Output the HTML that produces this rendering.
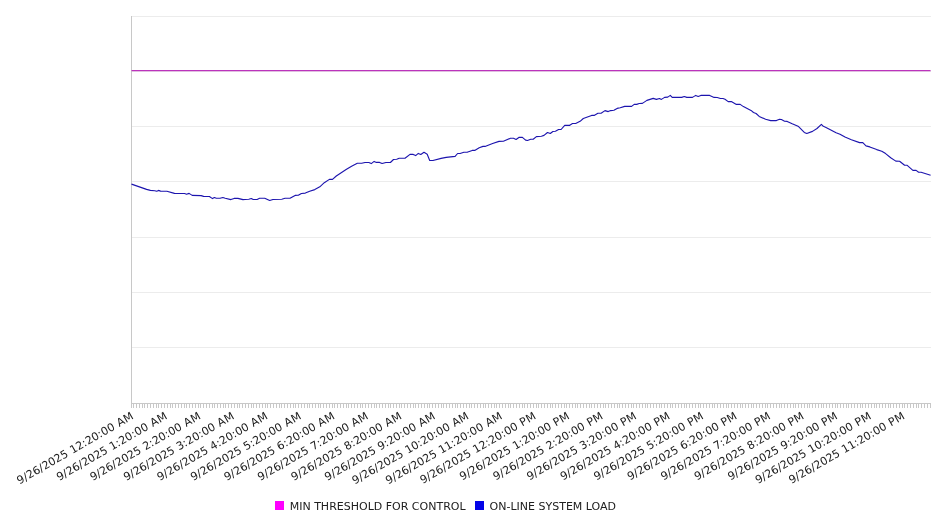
<!DOCTYPE html>
<html><head><meta charset="utf-8"><title>System Load</title>
<style>
html,body{margin:0;padding:0;background:#fff;}
body{width:946px;height:526px;overflow:hidden;}
svg{display:block}
text{font-family:"DejaVu Sans","Liberation Sans",sans-serif;font-size:11px;fill:#202020}
</style></head><body>
<svg width="946" height="526" viewBox="0 0 946 526">
<rect width="946" height="526" fill="#fff"/>

<g stroke="#ececec" stroke-width="1" shape-rendering="crispEdges">
<line x1="131" x2="931" y1="16.5" y2="16.5"/>
<line x1="131" x2="931" y1="71.5" y2="71.5"/>
<line x1="131" x2="931" y1="126.5" y2="126.5"/>
<line x1="131" x2="931" y1="181.5" y2="181.5"/>
<line x1="131" x2="931" y1="237.5" y2="237.5"/>
<line x1="131" x2="931" y1="292.5" y2="292.5"/>
<line x1="131" x2="931" y1="347.5" y2="347.5"/>
</g>
<g stroke="#c8c8c8" stroke-width="1" shape-rendering="crispEdges">
<line x1="131.5" x2="131.5" y1="16" y2="404"/>
<line x1="131" x2="931" y1="403.5" y2="403.5"/>
<path d="M131.5,404V408M133.5,404V408M136.5,404V408M139.5,404V408M142.5,404V408M144.5,404V408M147.5,404V408M150.5,404V408M153.5,404V408M156.5,404V408M158.5,404V408M161.5,404V408M164.5,404V408M167.5,404V408M170.5,404V408M172.5,404V408M175.5,404V408M178.5,404V408M181.5,404V408M184.5,404V408M186.5,404V408M189.5,404V408M192.5,404V408M195.5,404V408M198.5,404V408M200.5,404V408M203.5,404V408M206.5,404V408M209.5,404V408M212.5,404V408M214.5,404V408M217.5,404V408M220.5,404V408M223.5,404V408M225.5,404V408M228.5,404V408M231.5,404V408M234.5,404V408M237.5,404V408M239.5,404V408M242.5,404V408M245.5,404V408M248.5,404V408M251.5,404V408M253.5,404V408M256.5,404V408M259.5,404V408M262.5,404V408M265.5,404V408M267.5,404V408M270.5,404V408M273.5,404V408M276.5,404V408M279.5,404V408M281.5,404V408M284.5,404V408M287.5,404V408M290.5,404V408M293.5,404V408M295.5,404V408M298.5,404V408M301.5,404V408M304.5,404V408M307.5,404V408M309.5,404V408M312.5,404V408M315.5,404V408M318.5,404V408M320.5,404V408M323.5,404V408M326.5,404V408M329.5,404V408M332.5,404V408M334.5,404V408M337.5,404V408M340.5,404V408M343.5,404V408M346.5,404V408M348.5,404V408M351.5,404V408M354.5,404V408M357.5,404V408M360.5,404V408M362.5,404V408M365.5,404V408M368.5,404V408M371.5,404V408M374.5,404V408M376.5,404V408M379.5,404V408M382.5,404V408M385.5,404V408M388.5,404V408M390.5,404V408M393.5,404V408M396.5,404V408M399.5,404V408M401.5,404V408M404.5,404V408M407.5,404V408M410.5,404V408M413.5,404V408M415.5,404V408M418.5,404V408M421.5,404V408M424.5,404V408M427.5,404V408M429.5,404V408M432.5,404V408M435.5,404V408M438.5,404V408M441.5,404V408M443.5,404V408M446.5,404V408M449.5,404V408M452.5,404V408M455.5,404V408M457.5,404V408M460.5,404V408M463.5,404V408M466.5,404V408M469.5,404V408M471.5,404V408M474.5,404V408M477.5,404V408M480.5,404V408M483.5,404V408M485.5,404V408M488.5,404V408M491.5,404V408M494.5,404V408M496.5,404V408M499.5,404V408M502.5,404V408M505.5,404V408M508.5,404V408M510.5,404V408M513.5,404V408M516.5,404V408M519.5,404V408M522.5,404V408M524.5,404V408M527.5,404V408M530.5,404V408M533.5,404V408M536.5,404V408M538.5,404V408M541.5,404V408M544.5,404V408M547.5,404V408M550.5,404V408M552.5,404V408M555.5,404V408M558.5,404V408M561.5,404V408M564.5,404V408M566.5,404V408M569.5,404V408M572.5,404V408M575.5,404V408M577.5,404V408M580.5,404V408M583.5,404V408M586.5,404V408M589.5,404V408M591.5,404V408M594.5,404V408M597.5,404V408M600.5,404V408M603.5,404V408M605.5,404V408M608.5,404V408M611.5,404V408M614.5,404V408M617.5,404V408M619.5,404V408M622.5,404V408M625.5,404V408M628.5,404V408M631.5,404V408M633.5,404V408M636.5,404V408M639.5,404V408M642.5,404V408M645.5,404V408M647.5,404V408M650.5,404V408M653.5,404V408M656.5,404V408M659.5,404V408M661.5,404V408M664.5,404V408M667.5,404V408M670.5,404V408M672.5,404V408M675.5,404V408M678.5,404V408M681.5,404V408M684.5,404V408M686.5,404V408M689.5,404V408M692.5,404V408M695.5,404V408M698.5,404V408M700.5,404V408M703.5,404V408M706.5,404V408M709.5,404V408M712.5,404V408M714.5,404V408M717.5,404V408M720.5,404V408M723.5,404V408M726.5,404V408M728.5,404V408M731.5,404V408M734.5,404V408M737.5,404V408M740.5,404V408M742.5,404V408M745.5,404V408M748.5,404V408M751.5,404V408M753.5,404V408M756.5,404V408M759.5,404V408M762.5,404V408M765.5,404V408M767.5,404V408M770.5,404V408M773.5,404V408M776.5,404V408M779.5,404V408M781.5,404V408M784.5,404V408M787.5,404V408M790.5,404V408M793.5,404V408M795.5,404V408M798.5,404V408M801.5,404V408M804.5,404V408M807.5,404V408M809.5,404V408M812.5,404V408M815.5,404V408M818.5,404V408M821.5,404V408M823.5,404V408M826.5,404V408M829.5,404V408M832.5,404V408M835.5,404V408M837.5,404V408M840.5,404V408M843.5,404V408M846.5,404V408M848.5,404V408M851.5,404V408M854.5,404V408M857.5,404V408M860.5,404V408M862.5,404V408M865.5,404V408M868.5,404V408M871.5,404V408M874.5,404V408M876.5,404V408M879.5,404V408M882.5,404V408M885.5,404V408M888.5,404V408M890.5,404V408M893.5,404V408M896.5,404V408M899.5,404V408M902.5,404V408M904.5,404V408M907.5,404V408M910.5,404V408M913.5,404V408M916.5,404V408M918.5,404V408M921.5,404V408M924.5,404V408M927.5,404V408M930.5,404V408" fill="none"/>
</g>
<line x1="131.5" x2="930.6" y1="70.62" y2="70.62" stroke="#bc34bc" stroke-width="1.1"/>
<path d="M131.5,184.1 L146.6,189.4 L150.4,190.4 L154.8,190.7 L156.7,191.3 L158.6,190.4 L160.5,191.1 L166.9,191.3 L174.5,193.4 L184.6,193.5 L186.5,194.2 L189.1,193.4 L192.2,195.4 L201.1,195.6 L203.6,196.4 L209.4,196.5 L212.5,198.6 L214.4,197.5 L216.3,198.3 L220.1,198.3 L222.9,197.5 L225.2,198.3 L230.9,199.6 L234.1,198.4 L237.9,198.4 L243.0,199.6 L245.0,199.5 L248.8,199.2 L251.3,198.5 L253.2,199.5 L257.1,199.5 L259.6,198.3 L264.7,198.3 L269.7,200.5 L272.9,199.5 L281.8,199.2 L285.0,198.3 L290.0,198.3 L295.1,195.4 L298.3,195.3 L301.4,193.5 L305.3,193.1 L309.7,191.2 L314.8,189.6 L319.8,186.8 L324.3,182.7 L329.4,179.4 L332.5,179.4 L336.3,176.0 L346.5,169.3 L351.6,166.2 L357.3,163.2 L361.7,163.2 L365.0,162.5 L368.8,162.5 L371.3,163.6 L374.1,161.4 L376.4,162.4 L379.6,162.4 L382.1,163.5 L385.9,162.5 L390.4,162.5 L393.5,159.5 L396.7,159.3 L399.2,158.3 L405.0,158.3 L410.0,154.4 L413.2,154.4 L415.7,155.6 L418.3,153.4 L420.8,154.5 L424.0,152.3 L427.2,154.2 L429.7,160.5 L432.9,160.5 L441.1,158.4 L446.2,157.4 L455.1,156.4 L457.6,153.5 L460.1,153.5 L463.9,152.3 L467.1,152.3 L472.2,150.4 L474.7,150.4 L479.2,147.7 L483.0,146.4 L485.0,146.4 L492.6,143.5 L499.0,141.4 L503.4,141.2 L510.4,138.3 L513.5,138.3 L516.1,139.5 L519.2,137.3 L522.4,137.4 L525.6,140.1 L527.5,140.5 L530.7,139.3 L533.2,139.3 L536.4,136.6 L541.4,136.3 L544.0,135.4 L547.5,132.5 L550.3,133.5 L552.9,131.5 L555.4,131.2 L558.6,129.5 L561.1,129.5 L564.7,125.4 L569.4,125.4 L572.5,123.5 L575.7,123.5 L580.1,121.3 L583.3,118.5 L591.6,115.4 L594.1,115.4 L597.9,113.3 L601.1,113.2 L605.0,110.6 L608.2,111.6 L610.7,110.6 L613.9,110.3 L617.1,108.4 L620.2,107.7 L624.7,106.4 L631.6,106.4 L634.2,104.4 L636.7,104.4 L639.2,103.5 L642.4,103.4 L646.9,100.4 L653.2,98.4 L656.4,99.4 L659.5,98.5 L661.4,99.4 L664.6,97.4 L667.8,97.1 L670.3,95.4 L672.2,97.4 L681.7,97.4 L684.3,96.5 L686.8,97.4 L692.5,97.4 L695.7,95.4 L698.2,96.4 L700.8,95.4 L709.7,95.4 L714.1,97.4 L717.3,97.5 L720.4,98.5 L723.0,98.5 L725.0,99.3 L728.2,101.6 L731.3,101.6 L736.4,104.4 L740.2,104.4 L743.4,106.6 L751.0,110.4 L753.5,112.5 L756.1,113.5 L759.2,116.4 L765.6,119.3 L770.7,120.6 L776.4,120.6 L779.5,119.3 L781.4,119.5 L784.6,121.2 L787.2,121.4 L792.2,123.8 L798.6,126.6 L804.3,132.4 L806.8,133.5 L812.5,131.4 L817.0,128.5 L821.4,124.4 L823.3,126.3 L826.0,127.4 L836.1,132.7 L840.0,134.2 L845.0,137.1 L851.4,139.7 L859.6,142.6 L862.8,142.6 L866.0,145.9 L869.8,146.9 L876.7,149.6 L881.8,151.3 L885.6,153.6 L890.7,157.7 L895.8,161.1 L899.6,161.2 L904.6,165.3 L907.2,165.3 L912.9,170.4 L916.1,170.4 L918.6,172.3 L921.1,172.3 L930.6,175.3" fill="none" stroke="#1c14ae" stroke-width="1.12" stroke-linejoin="round"/>
<g>
<text transform="translate(19.58,484.40) rotate(-30)" x="0 7 11 18 25 29 36 43 50 57 61 68 75 79 86 93 97 104 111 115 123">9/26/2025 12:20:00 AM</text>
<text transform="translate(59.17,480.90) rotate(-30)" x="0 7 11 18 25 29 36 43 50 57 61 68 72 79 86 90 97 104 108 116">9/26/2025 1:20:00 AM</text>
<text transform="translate(92.70,480.90) rotate(-30)" x="0 7 11 18 25 29 36 43 50 57 61 68 72 79 86 90 97 104 108 116">9/26/2025 2:20:00 AM</text>
<text transform="translate(126.22,480.90) rotate(-30)" x="0 7 11 18 25 29 36 43 50 57 61 68 72 79 86 90 97 104 108 116">9/26/2025 3:20:00 AM</text>
<text transform="translate(159.74,480.90) rotate(-30)" x="0 7 11 18 25 29 36 43 50 57 61 68 72 79 86 90 97 104 108 116">9/26/2025 4:20:00 AM</text>
<text transform="translate(193.27,480.90) rotate(-30)" x="0 7 11 18 25 29 36 43 50 57 61 68 72 79 86 90 97 104 108 116">9/26/2025 5:20:00 AM</text>
<text transform="translate(226.79,480.90) rotate(-30)" x="0 7 11 18 25 29 36 43 50 57 61 68 72 79 86 90 97 104 108 116">9/26/2025 6:20:00 AM</text>
<text transform="translate(260.32,480.90) rotate(-30)" x="0 7 11 18 25 29 36 43 50 57 61 68 72 79 86 90 97 104 108 116">9/26/2025 7:20:00 AM</text>
<text transform="translate(293.84,480.90) rotate(-30)" x="0 7 11 18 25 29 36 43 50 57 61 68 72 79 86 90 97 104 108 116">9/26/2025 8:20:00 AM</text>
<text transform="translate(327.37,480.90) rotate(-30)" x="0 7 11 18 25 29 36 43 50 57 61 68 72 79 86 90 97 104 108 116">9/26/2025 9:20:00 AM</text>
<text transform="translate(354.83,484.40) rotate(-30)" x="0 7 11 18 25 29 36 43 50 57 61 68 75 79 86 93 97 104 111 115 123">9/26/2025 10:20:00 AM</text>
<text transform="translate(388.35,484.40) rotate(-30)" x="0 7 11 18 25 29 36 43 50 57 61 68 75 79 86 93 97 104 111 115 123">9/26/2025 11:20:00 AM</text>
<text transform="translate(422.74,483.90) rotate(-30)" x="0 7 11 18 25 29 36 43 50 57 61 68 75 79 86 93 97 104 111 115 122">9/26/2025 12:20:00 PM</text>
<text transform="translate(462.33,480.40) rotate(-30)" x="0 7 11 18 25 29 36 43 50 57 61 68 72 79 86 90 97 104 108 115">9/26/2025 1:20:00 PM</text>
<text transform="translate(495.86,480.40) rotate(-30)" x="0 7 11 18 25 29 36 43 50 57 61 68 72 79 86 90 97 104 108 115">9/26/2025 2:20:00 PM</text>
<text transform="translate(529.38,480.40) rotate(-30)" x="0 7 11 18 25 29 36 43 50 57 61 68 72 79 86 90 97 104 108 115">9/26/2025 3:20:00 PM</text>
<text transform="translate(562.90,480.40) rotate(-30)" x="0 7 11 18 25 29 36 43 50 57 61 68 72 79 86 90 97 104 108 115">9/26/2025 4:20:00 PM</text>
<text transform="translate(596.43,480.40) rotate(-30)" x="0 7 11 18 25 29 36 43 50 57 61 68 72 79 86 90 97 104 108 115">9/26/2025 5:20:00 PM</text>
<text transform="translate(629.95,480.40) rotate(-30)" x="0 7 11 18 25 29 36 43 50 57 61 68 72 79 86 90 97 104 108 115">9/26/2025 6:20:00 PM</text>
<text transform="translate(663.48,480.40) rotate(-30)" x="0 7 11 18 25 29 36 43 50 57 61 68 72 79 86 90 97 104 108 115">9/26/2025 7:20:00 PM</text>
<text transform="translate(697.00,480.40) rotate(-30)" x="0 7 11 18 25 29 36 43 50 57 61 68 72 79 86 90 97 104 108 115">9/26/2025 8:20:00 PM</text>
<text transform="translate(730.53,480.40) rotate(-30)" x="0 7 11 18 25 29 36 43 50 57 61 68 72 79 86 90 97 104 108 115">9/26/2025 9:20:00 PM</text>
<text transform="translate(757.99,483.90) rotate(-30)" x="0 7 11 18 25 29 36 43 50 57 61 68 75 79 86 93 97 104 111 115 122">9/26/2025 10:20:00 PM</text>
<text transform="translate(791.51,483.90) rotate(-30)" x="0 7 11 18 25 29 36 43 50 57 61 68 75 79 86 93 97 104 111 115 122">9/26/2025 11:20:00 PM</text>
</g>
<rect x="275" y="501" width="9" height="9" fill="#ff00ff"/>
<text x="289.7" y="509.6">MIN THRESHOLD FOR CONTROL</text>
<rect x="475" y="501" width="9" height="9" fill="#0404e8"/>
<text x="489.6" y="509.6">ON-LINE SYSTEM LOAD</text>
</svg></body></html>
